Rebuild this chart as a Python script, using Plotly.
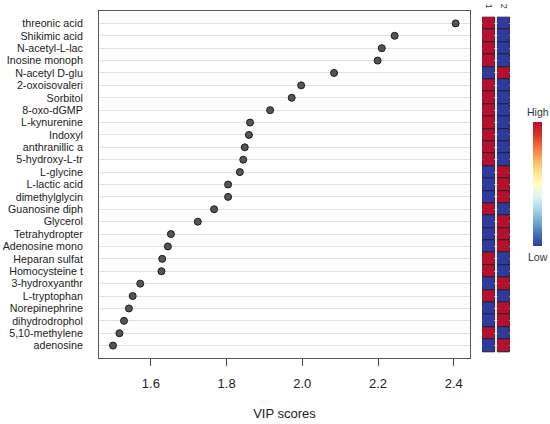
import plotly.graph_objects as go

# metabolites, top to bottom, with their VIP scores
names = ["threonic acid", "Shikimic acid", "N-acetyl-L-lac", "Inosine monoph",
         "N-acetyl D-glu", "2-oxoisovaleri", "Sorbitol", "8-oxo-dGMP",
         "L-kynurenine", "Indoxyl", "anthranillic a", "5-hydroxy-L-tr",
         "L-glycine", "L-lactic acid", "dimethylglycin", "Guanosine diph",
         "Glycerol", "Tetrahydropter", "Adenosine mono", "Heparan sulfat",
         "Homocysteine t", "3-hydroxyanthr", "L-tryptophan", "Norepinephrine",
         "dihydrodrophol", "5,10-methylene", "adenosine"]
vip = [2.405, 2.244, 2.210, 2.199, 2.084, 1.997, 1.972, 1.915, 1.862, 1.859,
       1.848, 1.844, 1.835, 1.804, 1.804, 1.767, 1.724, 1.653, 1.645, 1.630,
       1.628, 1.572, 1.552, 1.542, 1.529, 1.517, 1.500]

# relative level in group 1 and group 2 (1 = high, 0 = low)
group_labels = ["1", "2"]
group1 = [1, 1, 1, 1, 0, 1, 1, 1, 1, 1, 1, 1, 0, 0, 0, 1, 0, 0, 0, 1,
          1, 0, 1, 0, 0, 1, 0]
group2 = [0, 0, 0, 0, 1, 0, 0, 0, 0, 0, 0, 0, 1, 1, 1, 0, 1, 1, 1, 0,
          0, 1, 0, 1, 1, 0, 1]

W, H = 550, 424


def fx(p):
    return p / W


def fy(p):
    return 1 - p / H


font = "Liberation Sans, Arial, sans-serif"
scale = [[0.0, "#2e3a9c"], [0.1, "#4575b4"], [0.2, "#74add1"], [0.3, "#abd9e9"],
         [0.4, "#e0f3f8"], [0.5, "#ffffbf"], [0.6, "#fee090"], [0.7, "#fdae61"],
         [0.8, "#f46d43"], [0.9, "#d73027"], [1.0, "#b5102e"]]

fig = go.Figure()

fig.add_trace(go.Scatter(
    x=vip, y=names, mode="markers",
    marker=dict(size=7, color="#555555", line=dict(color="#1a1a1a", width=1)),
    showlegend=False, xaxis="x", yaxis="y"))

col_x = [0, 1.22]
for i, vals in enumerate([group1, group2]):
    fig.add_trace(go.Heatmap(
        x=[col_x[i]], y=names, z=[[v] for v in vals],
        zmin=0, zmax=1, colorscale=scale, ygap=1,
        showscale=(i == 0), xaxis="x2", yaxis="y",
        colorbar=dict(thickness=9, len=124 / H, lenmode="fraction",
                      x=fx(533), xanchor="left", y=fy(184.5),
                      yanchor="middle", outlinewidth=0, showticklabels=False,
                      ticks="", xpad=0, ypad=0)))
    fig.add_shape(type="rect", xref="x2", yref="y", layer="below",
                  x0=col_x[i] - 0.5, x1=col_x[i] + 0.5,
                  y0=-0.5, y1=len(names) - 0.5,
                  fillcolor="#1c1c28", line=dict(color="#222222", width=1))

for label, ypx in [("High", 112), ("Low", 257)]:
    fig.add_annotation(text=label, x=fx(537.5), y=fy(ypx), xref="paper",
                       yref="paper", xanchor="center", yanchor="middle",
                       showarrow=False, font=dict(size=10.5, color="#333"))

fig.update_layout(
    width=W, height=H, margin=dict(l=0, r=0, t=0, b=0, autoexpand=False),
    paper_bgcolor="white", plot_bgcolor="white",
    font=dict(family=font, color="#222222"),
    xaxis=dict(domain=[fx(99), fx(470)], range=[1.463, 2.443],
               tickvals=[1.6, 1.8, 2.0, 2.2, 2.4], ticktext=["1.6", "1.8", "2.0", "2.2", "2.4"],
               ticks="outside", ticklen=7, tickcolor="#444", showgrid=False,
               zeroline=False, showline=True, linecolor="#555", linewidth=1,
               mirror=True, tickfont=dict(size=13), ticklabelstandoff=6,
               title=dict(text="VIP scores", font=dict(size=13), standoff=19),
               anchor="y", automargin=False),
    yaxis=dict(domain=[fy(358), fy(11)], type="category",
               categoryorder="array", categoryarray=names,
               tickmode="array", tickvals=names, ticktext=names,
               range=[len(names), -1], showgrid=True, gridcolor="#e2e2e2",
               gridwidth=1, ticks="", tickfont=dict(size=10.7),
               ticklabelstandoff=13, showline=True, linecolor="#555",
               linewidth=1, mirror=True, zeroline=False, anchor="x",
               automargin=False),
    xaxis2=dict(domain=[fx(482), fx(510)], range=[-0.52, 1.74],
                side="top", tickvals=col_x, ticktext=group_labels,
                tickangle=90, ticks="", tickfont=dict(size=9, color="#333"),
                ticklabelstandoff=0, showgrid=False, zeroline=False,
                showline=False, anchor="y", automargin=False),
)

# drop the browser's default body margin so the figure fills the window
fig.write_html("out.html", config={"displayModeBar": False},
               post_script="document.body.style.margin = '0';")
